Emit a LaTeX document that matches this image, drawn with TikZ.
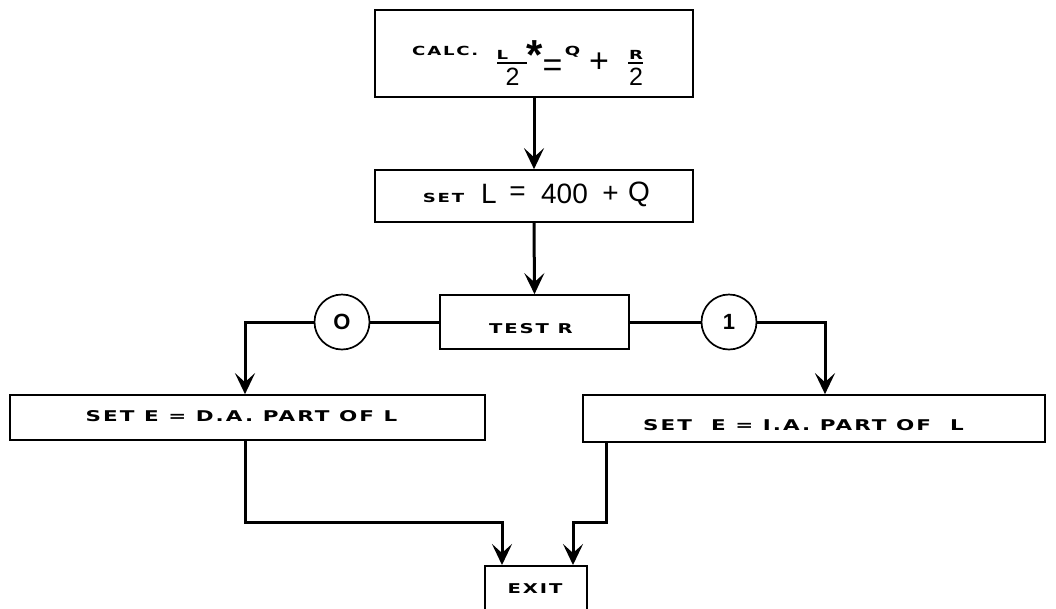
\documentclass[tikz,border=0pt]{standalone}
\usepackage{fontspec}
\setmainfont{DejaVu Sans}
\newfontfamily\gothic[LetterSpace=14,FakeStretch=1.45]{DejaVu Sans Bold}
\newfontfamily\plain{Liberation Sans}
\usetikzlibrary{arrows.meta}
\begin{document}
\begin{tikzpicture}[x=1pt,y=-1pt,
  box/.style={draw,line width=1.7pt,inner sep=0pt},
  conn/.style={line width=3pt},
  arr/.style={conn,-{Stealth[length=21pt,width=20pt,inset=9pt]}},
  circ/.style={draw,circle,line width=1.7pt,minimum size=55pt,inner sep=0pt,font=\plain\bfseries\fontsize{22}{22}\selectfont},
  lab/.style={font=\gothic\fontsize{14.8}{15}\selectfont,inner sep=0pt},
  med/.style={font=\gothic\fontsize{13.5}{14}\selectfont,inner sep=0pt},
  big/.style={font=\plain\fontsize{28}{28}\selectfont,inner sep=0pt},
  mid/.style={font=\plain\fontsize{25}{25}\selectfont,inner sep=0pt},
  sym/.style={font=\plain\fontsize{34}{34}\selectfont,inner sep=0pt},
  sm/.style={font=\gothic\fontsize{12.5}{13}\selectfont,inner sep=0pt}]
\useasboundingbox (0,0) rectangle (1056,608);
\clip (0,0) rectangle (1056,608);
% top box
\node[box,minimum width=318pt,minimum height=87pt] (calc) at (534,53.5) {};
\node[sm,anchor=base west] (calctxt) at (412,55.5) {CALC.};
\node[sm] (lnum) at (502.5,55) {L};
\draw[line width=2pt] (497,63) -- (527,63);
\node[mid] (lden) at (512.5,76.5) {2};
\node[font=\plain\bfseries\fontsize{42}{42}\selectfont,inner sep=0pt] (star) at (535,55) {*};
\node[sym] (eq1) at (552.5,68) {=};
\node[sm] (q1) at (572.5,51.5) {Q};
\node[sym] (plus1) at (599,63) {+};
\node[sm] (rnum) at (636,55) {R};
\draw[line width=2pt] (628,63) -- (643,63);
\node[mid] (rden) at (636,76.5) {2};
% second box
\node[box,minimum width=318pt,minimum height=52pt] (setl) at (534,196) {};
\node[sm] (settxt) at (443.5,198) {SET};
\node[big] (bl) at (489,194) {L};
\node[big] (beq) at (517.5,194) {=};
\node[big] (b400) at (564.5,194) {400};
\node[big] (bplus) at (610.5,194) {+};
\node[big] (bq) at (639,194) {Q};
% test box
\node[box,minimum width=189pt,minimum height=54pt] (test) at (534.5,322) {};
\node[med] (testtxt) at (531,329) {TEST R};
% result boxes
\node[box,minimum width=475pt,minimum height=45pt] (da) at (247.5,417.5) {};
\node[lab] (datxt) at (241.5,416) {SET E = D.A. PART OF L};
\node[box,minimum width=462pt,minimum height=47pt] (ia) at (814,418.5) {};
\node[lab] (iatxt) at (803.5,425) {SET\ \ E = I.A. PART OF\ \ L};
\node[box,minimum width=102pt,minimum height=70pt,anchor=north] (exit) at (536,565) {};
\node[med] (exittxt) at (535,589) {EXIT};
% circles
\node[circ] (c0) at (342,322) {O};
\node[circ] (c1) at (729,322) {1};
% connectors
\draw[arr] (calc.south) -- (setl.north);
\draw[arr] (setl.south) -- (test.north);
\coordinate (l1) at (245,322);
\coordinate (r1) at (825,322);
\draw[conn] (test.west) -- (c0.east);
\draw[arr] (c0.west) -- (l1) -- (l1 |- da.north);
\draw[conn] (test.east) -- (c1.west);
\draw[arr] (c1.east) -- (r1) -- (r1 |- ia.north);
\coordinate (l2) at (245,522);
\coordinate (l3) at (502,522);
\draw[arr] (l2 |- da.south) -- (l2) -- (l3) -- (l3 |- exit.north);
\coordinate (r2) at (606,522);
\coordinate (r3) at (573,522);
\draw[arr] (r2 |- ia.south) -- (r2) -- (r3) -- (r3 |- exit.north);
\end{tikzpicture}
\end{document}
